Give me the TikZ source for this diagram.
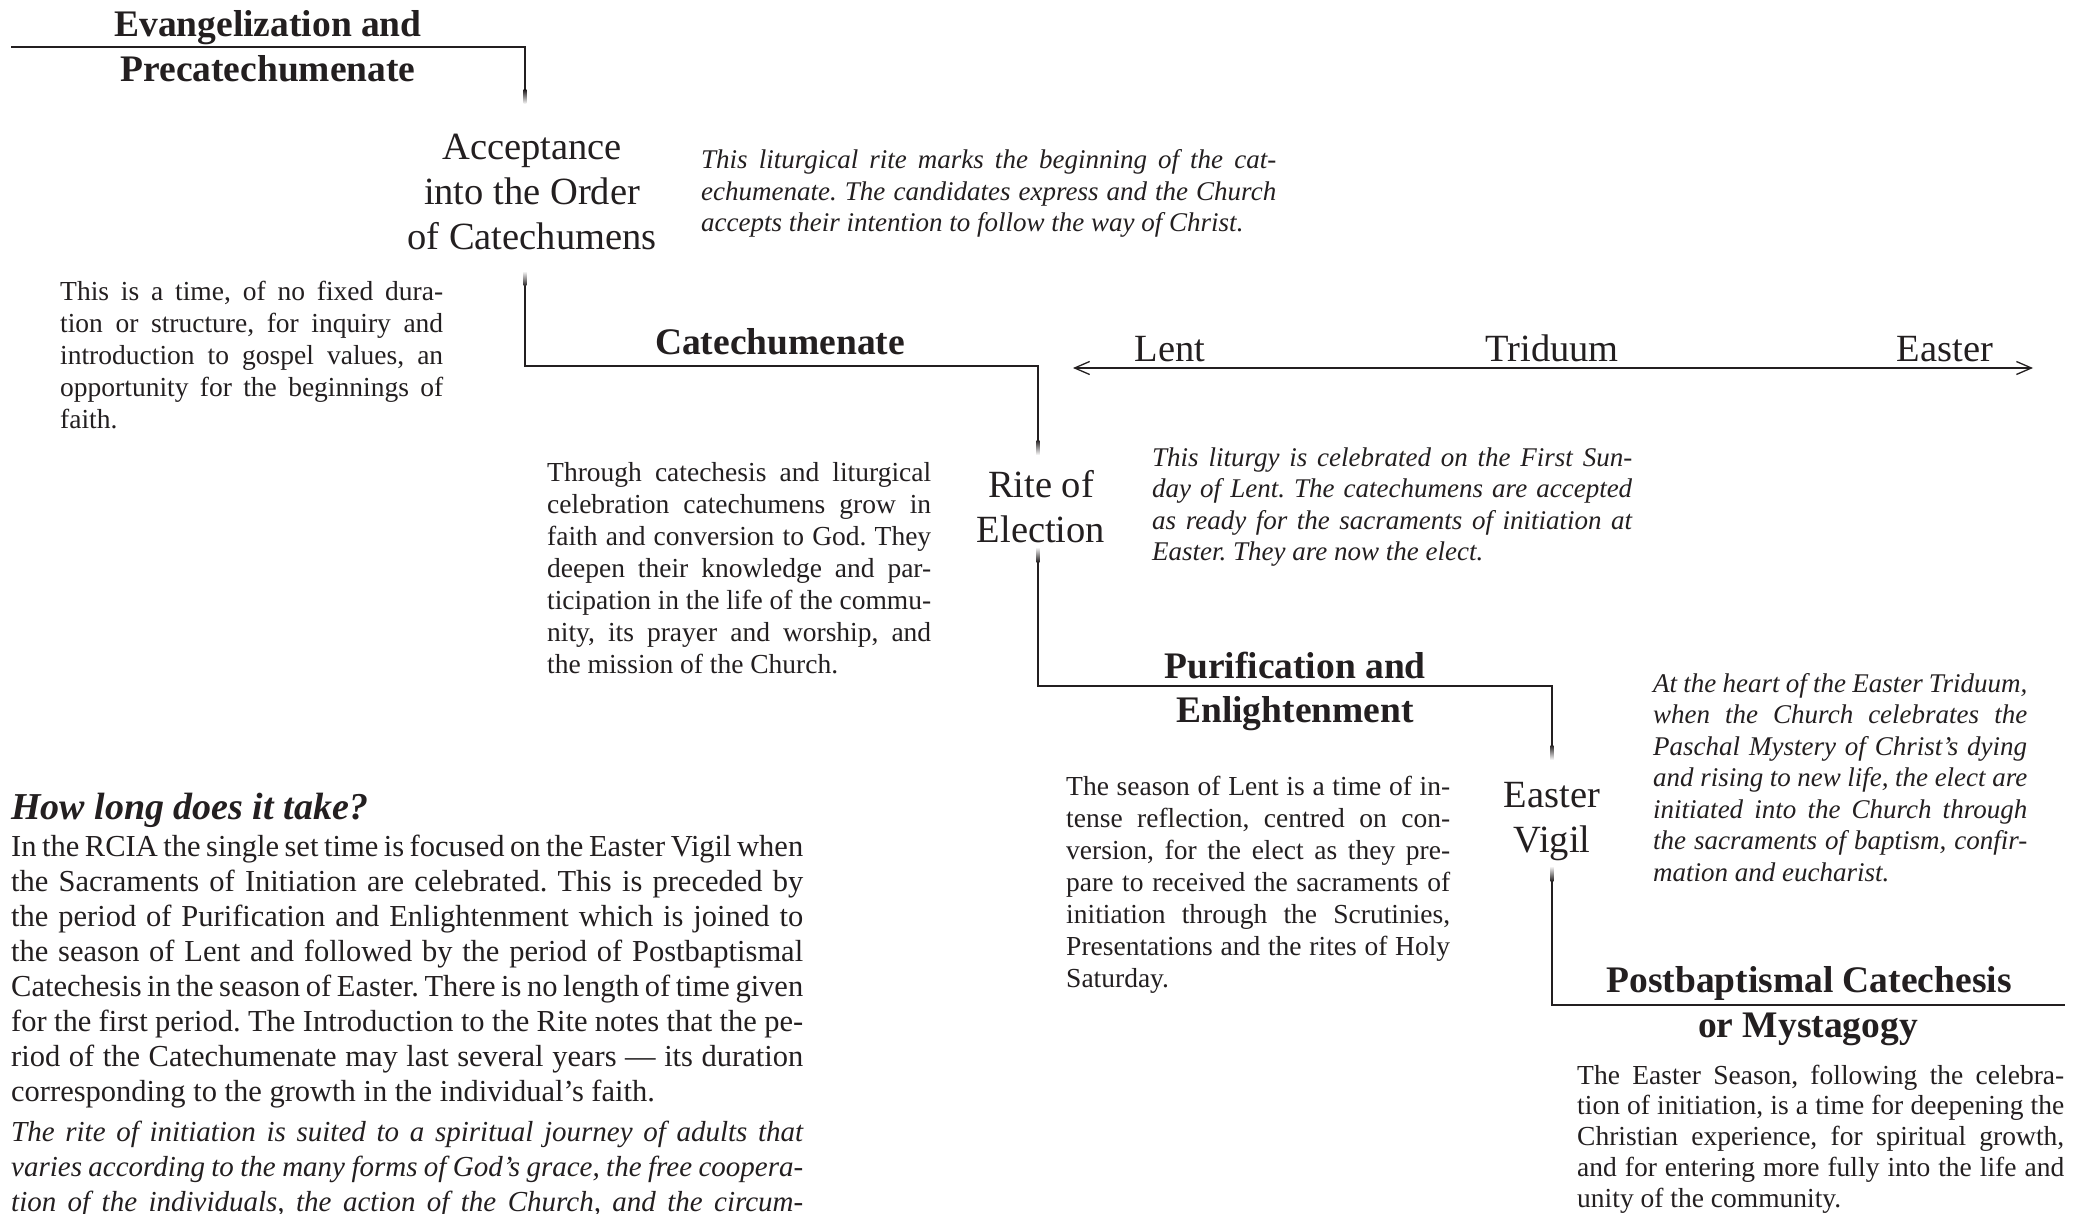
\documentclass[tikz,border=0pt]{standalone}
\usepackage{fontspec}
\setmainfont{Liberation Serif}
\usetikzlibrary{arrows.meta}
\definecolor{ink}{HTML}{231F20}
\newcommand{\JL}[1]{\hbox to \hsize{#1}}
\newcommand{\LL}[1]{\hbox{#1}}
\newcommand{\Para}[2]{\vtop{\hsize=#1\relax #2}}
\tikzset{
 stage/.style={inner sep=0pt, anchor=base, text=ink, font=\fontsize{37.5}{44}\selectfont\bfseries},
 riteof/.style={inner sep=0pt, anchor=base, text=ink, font=\fontsize{38.5}{44}\selectfont},
 desc/.style={inner sep=0pt, anchor=base west, text=ink, font=\frenchspacing\fontsize{27.5}{32}\selectfont},
 desc2/.style={inner sep=0pt, anchor=base west, text=ink, font=\frenchspacing\fontsize{27.5}{30.8}\selectfont},
 note/.style={inner sep=0pt, anchor=base west, text=ink, font=\frenchspacing\fontsize{27}{31.5}\selectfont\itshape},
 essay/.style={inner sep=0pt, anchor=base west, text=ink, font=\frenchspacing\fontsize{30.5}{35}\selectfont},
 essayit/.style={inner sep=0pt, anchor=base west, text=ink, font=\frenchspacing\fontsize{29}{35}\selectfont\itshape},
 period/.style={draw=ink, line width=2.6pt, line join=miter},
 timeline/.style={draw=ink, line width=1.3pt, {Straight Barb[length=15pt,width=13pt]}-{Straight Barb[length=15pt,width=13pt]}},
 fadedown/.style={top color=ink, bottom color=white, draw=none},
 fadeup/.style={top color=white, bottom color=ink, draw=none},
}
\begin{document}
\begin{tikzpicture}[x=1pt,y=-1pt]
\useasboundingbox (0,0) rectangle (2087,1214);
\fill[white] (0,0) rectangle (2087,1214);

% ---------- period lines ----------
\coordinate (a0) at (11,47);
\coordinate (a1) at (525,47);
\coordinate (a2) at (525,90);
\draw[period] (a0) -- (a1) -- (a2);
\shade[fadedown] (523.7,90) rectangle (526.3,104);

\coordinate (b0) at (525,286);
\coordinate (b1) at (525,366);
\coordinate (b2) at (1038,366);
\coordinate (b3) at (1038,440);
\shade[fadeup] (523.7,271) rectangle (526.3,286);
\draw[period] (b0) -- (b1) -- (b2) -- (b3);
\shade[fadedown] (1036.7,440) rectangle (1039.3,455);

\coordinate (c0) at (1038,562);
\coordinate (c1) at (1038,686);
\coordinate (c2) at (1552,686);
\coordinate (c3) at (1552,745);
\shade[fadeup] (1036.7,547) rectangle (1039.3,562);
\draw[period] (c0) -- (c1) -- (c2) -- (c3);
\shade[fadedown] (1550.7,745) rectangle (1553.3,760);

\coordinate (d0) at (1552,881);
\coordinate (d1) at (1552,1005);
\coordinate (d2) at (2065,1005);
\shade[fadeup] (1550.7,866) rectangle (1553.3,881);
\draw[period] (d0) -- (d1) -- (d2);

% ---------- liturgical time line ----------
\coordinate (tl) at (1073,368);
\coordinate (tr) at (2033,368);
\draw[timeline] (tl) -- (tr);

\begin{scope}[yshift=-2pt]
% ---------- stage headings ----------
\node[stage] (ev1) at (268,35) {Evangelization and};
\node[stage] (ev2) at (268,80) {Precatechumenate};
\node[stage] (cat) at (780,353) {Catechumenate};
\node[stage] (pur1) at (1295,676) {Purification and};
\node[stage] (pur2) at (1295,720) {Enlightenment};
\node[stage] (post1) at (1809,990) {Postbaptismal Catechesis};
\node[stage] (post2) at (1808,1035) {or Mystagogy};

% ---------- rites ----------
\node[riteof] (acc1) at (532,158) {Acceptance};
\node[riteof] (acc2) at (532,203) {into the Order};
\node[riteof] (acc3) at (532,248) {of Catechumens};
\node[riteof] (rite1) at (1041,495) {Rite of};
\node[riteof] (rite2) at (1041,540) {Election};
\node[riteof] (vig1) at (1552,805) {Easter};
\node[riteof] (vig2) at (1552,850) {Vigil};

\node[riteof] (lent) at (1170,360) {Lent};
\node[riteof] (tri) at (1552,360) {Triduum};
\node[riteof] (east) at (1945,360) {Easter};

% ---------- descriptions ----------
\node[desc] (p1) at (60,299) {\Para{383pt}{%
\JL{This is a time, of no fixed dura-}%
\JL{tion or structure, for inquiry and}%
\JL{introduction to gospel values, an}%
\JL{opportunity for the beginnings of}%
\LL{faith.}}};

\node[desc] (p2) at (547,479) {\Para{384pt}{%
\JL{Through catechesis and liturgical}%
\JL{celebration catechumens grow in}%
\JL{faith and conversion to God. They}%
\JL{deepen their knowledge and par-}%
\JL{ticipation in the life of the commu-}%
\JL{nity, its prayer and worship, and}%
\LL{the mission of the Church.}}};

\node[desc] (p3) at (1066,793) {\Para{384pt}{%
\JL{The season of Lent is a time of in-}%
\JL{tense reflection, centred on con-}%
\JL{version, for the elect as they pre-}%
\JL{pare to received the sacraments of}%
\JL{initiation through the Scrutinies,}%
\JL{Presentations and the rites of Holy}%
\LL{Saturday.}}};

\node[desc2] (p4) at (1577,1082) {\Para{487pt}{%
\JL{The Easter Season, following the celebra-}%
\JL{tion of initiation, is a time for deepening the}%
\JL{Christian experience, for spiritual growth,}%
\JL{and for entering more fully into the life and}%
\LL{unity of the community.}}};

% ---------- rite notes ----------
\node[note] (n1) at (701,167) {\Para{575pt}{%
\JL{This liturgical rite marks the beginning of the cat-}%
\JL{echumenate. The candidates express and the Church}%
\LL{accepts their intention to follow the way of Christ.}}};

\node[note] (n2) at (1152,464) {\Para{480pt}{%
\JL{This liturgy is celebrated on the First Sun-}%
\JL{day of Lent. The catechumens are accepted}%
\JL{as ready for the sacraments of initiation at}%
\LL{Easter. They are now the elect.}}};

\node[note] (n3) at (1653,690) {\Para{374pt}{%
\JL{At the heart of the Easter Triduum,}%
\JL{when the Church celebrates the}%
\JL{Paschal Mystery of Christ’s dying}%
\JL{and rising to new life, the elect are}%
\JL{initiated into the Church through}%
\JL{the sacraments of baptism, confir-}%
\LL{mation and eucharist.}}};

% ---------- essay ----------
\node[inner sep=0pt, anchor=base west, text=ink, font=\fontsize{38}{44}\selectfont\bfseries\itshape] (how) at (11,817) {How long does it take?};

\node[essay] (p5) at (11,854) {\Para{792pt}{%
\JL{In the RCIA the single set time is focused on the Easter Vigil when}%
\JL{the Sacraments of Initiation are celebrated. This is preceded by}%
\JL{the period of Purification and Enlightenment which is joined to}%
\JL{the season of Lent and followed by the period of Postbaptismal}%
\JL{Catechesis in the season of Easter. There is no length of time given}%
\JL{for the first period. The Introduction to the Rite notes that the pe-}%
\JL{riod of the Catechumenate may last several years — its duration}%
\LL{corresponding to the growth in the individual’s faith.}}};

\node[essayit] (p6) at (11,1139) {\Para{792pt}{%
\JL{The rite of initiation is suited to a spiritual journey of adults that}%
\JL{varies according to the many forms of God’s grace, the free coopera-}%
\JL{tion of the individuals, the action of the Church, and the circum-}}};
\end{scope}
\end{tikzpicture}
\end{document}
